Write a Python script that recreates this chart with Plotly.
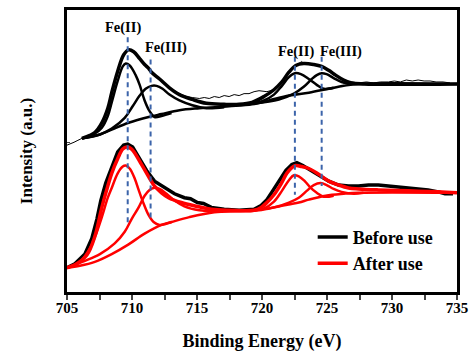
import plotly.graph_objects as go

# ---------------- data (binding energy in eV, intensity in a.u.) ----------------
# Before use (top spectrum)
top_raw_x = [705.00, 705.23, 705.54, 705.84, 706.15, 706.76, 707.14, 707.68, 708.14, 708.44, 708.90, 709.36,
             709.74, 710.13, 710.59, 710.97, 711.28, 711.50, 712.12, 712.88, 713.65, 714.18, 714.64, 715.18,
             715.56, 715.94, 716.33, 716.71, 717.09, 717.47, 717.86, 718.24, 718.62, 719.00, 719.39, 719.77,
             720.38, 720.92, 721.53, 722.07, 722.60, 723.06, 723.21, 723.98, 724.59, 725.13, 725.66, 726.28,
             726.89, 727.42, 728.04, 728.57, 729.11, 729.72, 730.18, 730.64, 731.10, 731.56, 732.01, 732.47,
             732.93, 733.39, 733.93, 734.46]
top_raw_y = [151, 152, 154, 156, 158, 161, 164, 174, 189, 205, 227, 244,
             249, 247, 240, 234, 230, 226, 219, 210, 204, 201, 200, 199,
             200, 199, 201, 200, 202, 201, 203, 202, 204, 204, 206, 207,
             206, 208, 216, 226, 233, 237, 235, 234, 232, 228, 223, 218,
             216, 215, 216, 215, 216, 216, 217, 216, 218, 217, 218, 217,
             217, 216, 216, 215]

top_env_x = [706.15, 706.76, 707.14, 707.68, 708.14, 708.44, 708.90, 709.36, 709.74, 710.13, 710.59, 710.97,
             711.28, 711.50, 712.12, 712.88, 713.65, 714.64, 715.71, 717.09, 718.24, 719.23, 720.15, 720.92,
             721.53, 722.07, 722.60, 723.21, 723.98, 724.59, 725.13, 725.66, 726.28, 726.89, 727.81, 735.00]
top_env_y = [158, 161, 164, 174, 189, 205, 227, 244, 249, 247, 240, 234,
             230, 226, 219, 210, 203, 198, 194, 193, 193, 195, 201, 208,
             216, 226, 233, 235, 234, 232, 228, 223, 218, 215, 214, 214]

top_fe2a_x = [706.15, 707.14, 707.68, 708.14, 708.44, 708.90, 709.29, 709.52, 709.82, 710.28, 710.59, 710.97,
              711.35, 711.73, 712.27, 713.04]
top_fe2a_y = [158, 163, 169, 181, 195, 217, 232, 235, 233, 223, 213, 197,
              186, 180, 181, 184]

top_fe3a_x = [706.15, 707.53, 708.44, 709.44, 710.05, 710.59, 711.05, 711.50, 711.89, 712.35, 712.88, 713.65,
              714.64, 715.71, 717.09]
top_fe3a_y = [158, 162, 168, 179, 191, 202, 209, 212, 212, 209, 203, 197,
              192, 189, 190]

top_bg_x = [706.15, 707.53, 708.44, 709.74, 711.28, 712.27, 713.65, 715.18, 717.47, 719.23, 720.54, 722.07,
            723.60, 725.13, 726.28, 727.42, 735.00]
top_bg_y = [158, 162, 167, 174, 180, 183, 187, 189, 191, 193, 197, 202,
            205, 209, 212, 214, 214]

top_fe2b_x = [719.00, 720.15, 720.92, 721.53, 722.07, 722.53, 722.99, 723.60, 724.21, 724.74, 725.51]
top_fe2b_y = [193, 197, 203, 212, 221, 225, 224, 219, 213, 209, 210]

top_fe3b_x = [719.39, 721.30, 722.45, 723.21, 723.83, 724.21, 724.59, 724.97, 725.51, 726.12, 726.89, 727.81]
top_fe3b_y = [194, 198, 204, 211, 219, 223, 225, 224, 220, 216, 214, 214]

# After use (bottom spectrum)
bot_raw_x = [705.00, 705.61, 706.38, 706.91, 707.30, 707.60, 707.98, 708.44, 708.90, 709.36, 709.67, 710.05,
             710.59, 711.12, 711.73, 712.50, 713.27, 714.03, 714.50, 715.03, 715.50, 716.10, 716.60, 717.09,
             718.24, 719.39, 719.93, 720.38, 720.77, 721.30, 721.84, 722.30, 722.68, 723.14, 723.75, 724.36,
             725.13, 725.89, 726.66, 727.42, 728.19, 728.95, 729.72, 730.48, 731.25, 732.01, 732.78, 733.55,
             734.08, 734.69]
bot_raw_y = [25, 29, 39, 55, 75, 94, 112, 129, 144, 151, 152, 149,
             137, 125, 114, 107, 101, 97, 96, 92, 91, 87, 86, 85,
             84, 85, 89, 95, 103, 114, 125, 131, 133, 130, 125, 120,
             114, 110, 109, 109, 110, 110, 109, 108, 107, 106, 105, 103,
             101, 101]

bot_env_x = [705.00, 705.61, 706.53, 707.14, 707.68, 708.14, 708.44, 708.90, 709.29, 709.59, 709.97, 710.74,
             711.35, 711.73, 712.27, 712.81, 713.80, 715.03, 716.10, 717.47, 719.39, 719.93, 720.38, 720.92,
             721.46, 721.91, 722.30, 722.60, 723.06, 723.60, 724.36, 725.13, 725.89, 726.66, 727.42, 728.95,
             731.25, 733.55, 735.00]
bot_env_y = [25, 28, 38, 57, 87, 109, 122, 137, 147, 149, 147, 131,
             117, 109, 102, 97, 92, 88, 85, 84, 84, 87, 92, 100,
             111, 122, 128, 130, 129, 127, 121, 114, 110, 107, 106, 105,
             104, 103, 102]

bot_fe2a_x = [705.00, 705.99, 706.76, 707.22, 707.68, 708.14, 708.44, 708.90, 709.29, 709.52, 709.82, 710.20,
              710.51, 710.89, 711.28, 711.66, 712.12, 713.04]
bot_fe2a_y = [25, 31, 45, 59, 77, 97, 107, 122, 129, 130, 127, 117,
              105, 91, 79, 72, 69, 72]

bot_fe3a_x = [705.00, 706.38, 707.53, 708.67, 709.44, 709.97, 710.51, 710.97, 711.35, 711.66, 712.12, 712.65,
              713.27, 714.03, 715.18, 716.33]
bot_fe3a_y = [25, 32, 39, 50, 62, 75, 87, 99, 105, 107, 106, 101,
              94, 88, 84, 83]

bot_bg_x = [705.00, 705.99, 707.14, 708.44, 709.74, 710.97, 712.27, 713.04, 714.41, 716.33, 718.24, 719.77,
            721.30, 722.83, 723.60, 724.90, 726.28, 727.42, 735.00]
bot_bg_y = [25, 27, 31, 39, 49, 60, 69, 72, 77, 82, 83, 84,
            88, 92, 95, 99, 101, 102, 102]

bot_fe2b_x = [719.00, 720.15, 720.92, 721.53, 722.07, 722.45, 722.83, 723.29, 723.75, 724.21, 724.74, 725.51]
bot_fe2b_y = [84, 86, 93, 104, 115, 120, 119, 114, 107, 102, 98, 99]

bot_fe3b_x = [719.39, 720.92, 722.07, 722.83, 723.44, 723.98, 724.52, 724.97, 725.51, 726.12, 727.04, 727.81]
bot_fe3b_y = [84, 87, 92, 97, 104, 110, 112, 110, 106, 103, 101, 102]

# Peak-position markers (eV) with the intensity span of each dashed guide
peak_labels = ["Fe(II)", "Fe(III)", "Fe(II)", "Fe(III)"]
peak_pos = [709.67, 711.43, 722.53, 724.59]
guide_top = [262, 239, 242, 242]
guide_bottom = [69, 75, 100, 109]
label_x = [709.29, 712.58, 722.60, 726.05]
label_y = [272, 251, 247, 247]

x_ticks = [705, 710, 715, 720, 725, 730, 735]

# ---------------- figure ----------------
FONT = "Liberation Serif, Times New Roman, serif"
BLACK = "#000000"
RED = "#ff0000"
BLUE = "#3c64aa"

fig = go.Figure()

def add(x, y, color, width, name=None, legend=False, shape="spline"):
    fig.add_trace(go.Scatter(
        x=x, y=y, mode="lines", name=name, showlegend=legend,
        line=dict(color=color, width=width, shape=shape, smoothing=1.0),
        hoverinfo="skip"))

# Before use
add(top_raw_x, top_raw_y, BLACK, 1, shape="linear")
add(top_bg_x, top_bg_y, BLACK, 2.5)
add(top_fe2a_x, top_fe2a_y, BLACK, 2.5)
add(top_fe3a_x, top_fe3a_y, BLACK, 2.5)
add(top_fe2b_x, top_fe2b_y, BLACK, 2.5)
add(top_fe3b_x, top_fe3b_y, BLACK, 2.5)
add(top_env_x, top_env_y, BLACK, 3.5, name="Before use", legend=True)

# After use
add(bot_raw_x, bot_raw_y, BLACK, 3.5, shape="linear")
add(bot_bg_x, bot_bg_y, RED, 2.5)
add(bot_fe2a_x, bot_fe2a_y, RED, 2.5)
add(bot_fe3a_x, bot_fe3a_y, RED, 2.5)
add(bot_fe2b_x, bot_fe2b_y, RED, 2.5)
add(bot_fe3b_x, bot_fe3b_y, RED, 2.5)
add(bot_env_x, bot_env_y, RED, 3.5, name="After use", legend=True)

# dashed guides
for px, yt, yb in zip(peak_pos, guide_top, guide_bottom):
    fig.add_trace(go.Scatter(x=[px, px], y=[yt, yb], mode="lines", showlegend=False,
                             line=dict(color=BLUE, width=2, dash="5px,4px"), hoverinfo="skip"))

for t, lx, ly in zip(peak_labels, label_x, label_y):
    fig.add_annotation(x=lx, y=ly, text=t, showarrow=False,
                       font=dict(family=FONT, size=14.5, color=BLACK, weight="bold"))

fig.update_layout(
    width=475, height=356,
    margin=dict(l=67, r=16, t=7, b=59),
    paper_bgcolor="white", plot_bgcolor="white",
    font=dict(family=FONT, color=BLACK, weight="bold"),
    legend=dict(x=0.63, y=0.26, xanchor="left", yanchor="top",
                font=dict(family=FONT, size=18, color=BLACK, weight="bold"),
                bgcolor="rgba(0,0,0,0)", itemwidth=30, tracegroupgap=0),
)
fig.update_xaxes(
    range=[705, 735], tickvals=x_ticks, ticks="",
    minor=dict(ticks="outside", ticklen=5, tickwidth=2, dtick=2.5, tick0=705),
    showline=True, linewidth=3, linecolor=BLACK, mirror=True, showgrid=False, zeroline=False,
    tickfont=dict(family=FONT, size=15, color=BLACK, weight="bold"),
    title=dict(text="Binding Energy (eV)", standoff=20,
               font=dict(family=FONT, size=18, color=BLACK, weight="bold")),
)
fig.update_yaxes(
    range=[0, 290], tickvals=[154], ticks="inside", ticklen=3, tickwidth=1, showticklabels=False,
    showline=True, linewidth=3, linecolor=BLACK, mirror=True, showgrid=False, zeroline=False,
    title=dict(text="Intensity (a.u.)", standoff=28,
               font=dict(family=FONT, size=17, color=BLACK, weight="bold")),
)

fig.write_html("out.html")
